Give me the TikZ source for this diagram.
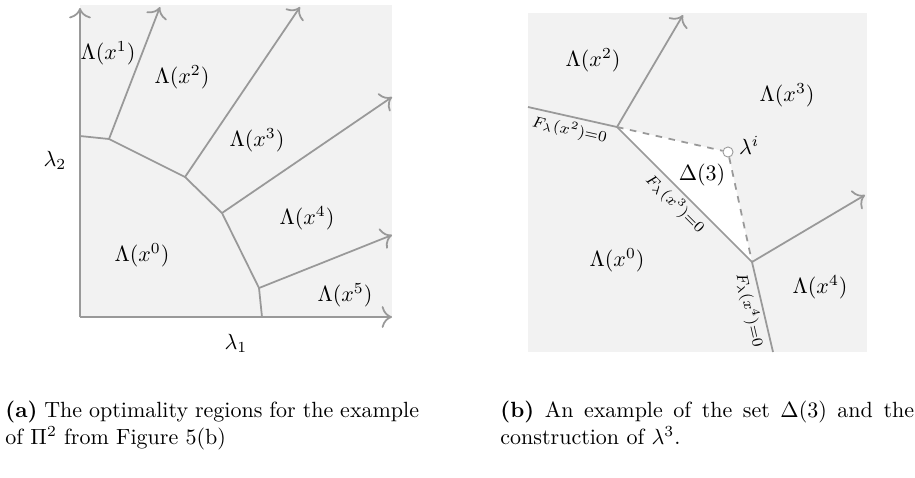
\documentclass[tikz,border=0pt]{standalone}
\usepackage{amsmath}
\usetikzlibrary{arrows.meta}
\begin{document}
\begin{tikzpicture}[x=0.4545pt, y=-0.4545pt, >={To[scale=1.4]},
    edge/.style={thick, black!40},
    fline/.style={font=\scriptsize, text=black, midway, below, sloped, inner sep=1.5pt},
    caption/.style={anchor=north west, text width=188pt, align=justify, inner sep=0pt}]
    \useasboundingbox (0,0) rectangle (915,477);

    % 1. Bên trái: các miền tối ưu
    \fill[black!5] (80,5) rectangle (392,317);
    \path (80,317) coordinate (O)
          (80,8)   coordinate (Y)
          (392,317) coordinate (X);

    % các đỉnh của đường gãy
    \path (80,136)  coordinate (A)
          (109,139) coordinate (B)
          (185,177) coordinate (C)
          (222,213) coordinate (D)
          (259,288) coordinate (E)
          (262,317) coordinate (F);

    % đầu các tia
    \path (160,7)   coordinate (B1)
          (300,7)   coordinate (C1)
          (392,97)  coordinate (D1)
          (392,235) coordinate (E1);

    \draw[edge, ->] (O) -- (Y);
    \draw[edge, ->] (O) -- (X);
    \draw[edge] (A) -- (B) -- (C) -- (D) -- (E) -- (F);
    \foreach \pt in {B,C,D,E} {
        \draw[edge, ->] (\pt) -- (\pt1);
    }

    \node (lam2) at (55,160) {$\lambda_2$};
    \node (lam1) at (236,343) {$\lambda_1$};
    \node (R1) at (108,53)  {$\Lambda(x^1)$};
    \node (R2) at (182,77)  {$\Lambda(x^2)$};
    \node (R3) at (257,140) {$\Lambda(x^3)$};
    \node (R4) at (307,218) {$\Lambda(x^4)$};
    \node (R0) at (142,255) {$\Lambda(x^0)$};
    \node (R5) at (345,295) {$\Lambda(x^5)$};

    % 2. Bên phải: tập Delta(3)
    \fill[black!5] (528,13) rectangle (867,352);
    \path (528,107) coordinate (W)
          (617,127) coordinate (P)
          (752,262) coordinate (Q)
          (773,352) coordinate (S)
          (683,15)  coordinate (P1)
          (865,195) coordinate (Q1);

    \fill[white] (P) -- (728,152) -- (Q) -- cycle;
    \node[circle, draw=black!40, fill=white, thin, inner sep=0pt, minimum size=4.6pt] (lam) at (728,152) {};
    \draw[edge, dashed] (P) -- (lam) -- (Q);

    \draw[edge] (W) -- node[fline] {$F_\lambda(x^2){=}0$} (P);
    \draw[edge] (P) -- node[fline] {$F_\lambda(x^3){=}0$} (Q);
    \draw[edge] (Q) -- node[fline] {$F_\lambda(x^4){=}0$} (S);
    \draw[edge, ->] (P) -- (P1);
    \draw[edge, ->] (Q) -- (Q1);

    \node[anchor=west, inner sep=0pt, xshift=2.3pt, yshift=3pt] (lami) at (lam.east) {$\lambda^i$};
    \node (D3) at (702,175) {$\Delta(3)$};
    \node (S2) at (593,60)  {$\Lambda(x^2)$};
    \node (S3) at (787,95)  {$\Lambda(x^3)$};
    \node (S0) at (617,260) {$\Lambda(x^0)$};
    \node (S4) at (820,287) {$\Lambda(x^4)$};

    % 3. Chú thích
    \node[caption] (capa) at (5,401) {\textbf{(a)} The optimality regions for the example of $\Pi^2$ from Figure 5(b)};
    \node[caption] (capb) at (500,401) {\textbf{(b)} An example of the set $\Delta(3)$ and the construction of $\lambda^3$.};
\end{tikzpicture}
\end{document}
